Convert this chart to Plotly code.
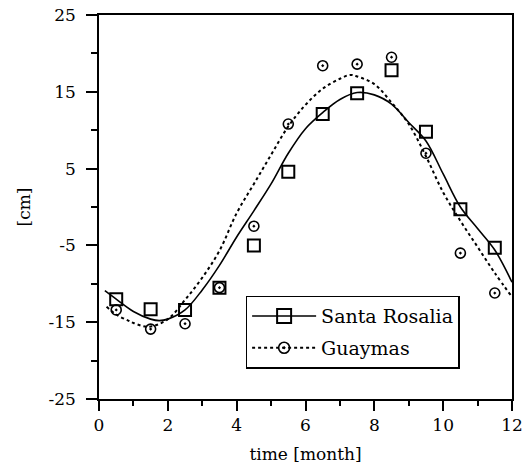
import plotly.graph_objects as go

# Observed monthly data
months = [0.5, 1.5, 2.5, 3.5, 4.5, 5.5, 6.5, 7.5, 8.5, 9.5, 10.5, 11.5]
santa_rosalia = [-12.0, -13.3, -13.4, -10.5, -5.0, 4.6, 12.1, 14.8, 17.8, 9.8, -0.3, -5.3]
guaymas = [-13.4, -15.9, -15.2, -10.5, -2.5, 10.8, 18.4, 18.6, 19.5, 7.0, -6.0, -11.2]

# Fitted curves
sr_fit_x = [0.17, 0.5, 1.0, 1.5, 1.75, 2.0, 2.5, 3.0, 3.5, 4.0, 4.5, 5.0, 5.5, 6.0,
            6.5, 7.0, 7.5, 8.0, 8.5, 9.0, 9.5, 10.0, 10.5, 11.0, 11.5, 12.0]
sr_fit_y = [-10.9, -12.0, -13.6, -14.6, -14.8, -14.6, -13.4, -10.8, -7.6, -3.9, -0.5, 3.0, 7.0, 10.2,
            12.3, 14.0, 14.9, 14.6, 13.4, 11.0, 8.6, 4.3, 0.0, -2.8, -5.6, -9.8]
gu_fit_x = [0.22, 0.5, 0.85, 1.0, 1.45, 2.0, 2.5, 3.0, 3.5, 4.0, 4.5, 5.0, 5.5, 6.0,
            6.5, 7.0, 7.3, 7.5, 8.0, 8.5, 9.0, 9.5, 10.0, 10.5, 11.0, 11.5, 12.0]
gu_fit_y = [-13.0, -14.0, -14.8, -15.1, -15.6, -14.6, -12.1, -9.2, -5.7, -0.8, 3.0, 6.8, 10.5, 13.3,
            15.4, 16.7, 17.2, 17.0, 16.0, 13.6, 10.8, 6.6, 1.9, -1.8, -5.2, -8.6, -11.7]

x_ticks = [0, 2, 4, 6, 8, 10, 12]
y_ticks = [-25, -15, -5, 5, 15, 25]

FONT = "DejaVu Serif"

fig = go.Figure()

fig.add_trace(go.Scatter(x=sr_fit_x, y=sr_fit_y, mode="lines", line=dict(color="black", width=1.6, shape="spline"),
                         showlegend=False, hoverinfo="skip"))
fig.add_trace(go.Scatter(x=gu_fit_x, y=gu_fit_y, mode="lines",
                         line=dict(color="black", width=2, dash="dot", shape="spline"),
                         showlegend=False, hoverinfo="skip"))
fig.add_trace(go.Scatter(x=months, y=santa_rosalia, mode="markers",
                         marker=dict(symbol="square-open", size=12, color="black", line=dict(width=2, color="black")),
                         showlegend=False))
fig.add_trace(go.Scatter(x=months, y=guaymas, mode="markers",
                         marker=dict(symbol="circle-open-dot", size=10, color="black", line=dict(width=1.6, color="black")),
                         showlegend=False))

# legend entries
fig.add_trace(go.Scatter(x=[None], y=[None], mode="lines+markers", name="Santa Rosalia",
                         line=dict(color="black", width=1.6),
                         marker=dict(symbol="square-open", size=14, color="black", line=dict(width=2, color="black")),
                         legendgroup="a"))
fig.add_trace(go.Scatter(x=[None], y=[None], mode="lines+markers", name="Guaymas",
                         line=dict(color="black", width=2, dash="dot"),
                         marker=dict(symbol="circle-open-dot", size=11, color="black", line=dict(width=1.6, color="black")),
                         legendgroup="b"))

fig.update_layout(
    width=523, height=465,
    margin=dict(l=99, r=11, t=15, b=66),
    paper_bgcolor="white", plot_bgcolor="white",
    font=dict(family=FONT, size=17, color="black"),
    legend=dict(x=0.355, y=0.269, xanchor="left", yanchor="top",
                bordercolor="black", borderwidth=1.5, bgcolor="white",
                font=dict(family=FONT, size=19, color="black"), itemwidth=64,
                tracegroupgap=4, traceorder="grouped"),
    xaxis=dict(range=[0, 12], tickvals=x_ticks, ticktext=[str(v) for v in x_ticks],
               ticks="outside", ticklen=10, tickwidth=1.5, tickcolor="black",
               showline=True, linecolor="black", linewidth=1.5, mirror=True,
               showgrid=False, zeroline=False, automargin=False,
               minor=dict(dtick=1, tick0=0, ticks="outside", ticklen=5, tickwidth=1.5, tickcolor="black", showgrid=False),
               title=dict(text="time [month]", font=dict(family=FONT, size=17, color="black"), standoff=14),
               tickfont=dict(family=FONT, size=17, color="black")),
    yaxis=dict(range=[-25, 25], tickvals=y_ticks, ticktext=[str(v) for v in y_ticks],
               ticks="outside", ticklen=11, tickwidth=1.5, tickcolor="black",
               showline=True, linecolor="black", linewidth=1.5, mirror=True,
               showgrid=False, zeroline=False, automargin=False, ticklabelstandoff=7,
               minor=dict(dtick=5, tick0=-25, ticks="outside", ticklen=6, tickwidth=1.5, tickcolor="black", showgrid=False),
               title=dict(text="[cm]", font=dict(family=FONT, size=17, color="black"), standoff=14),
               tickfont=dict(family=FONT, size=17, color="black")),
)

fig.write_html("out.html")
